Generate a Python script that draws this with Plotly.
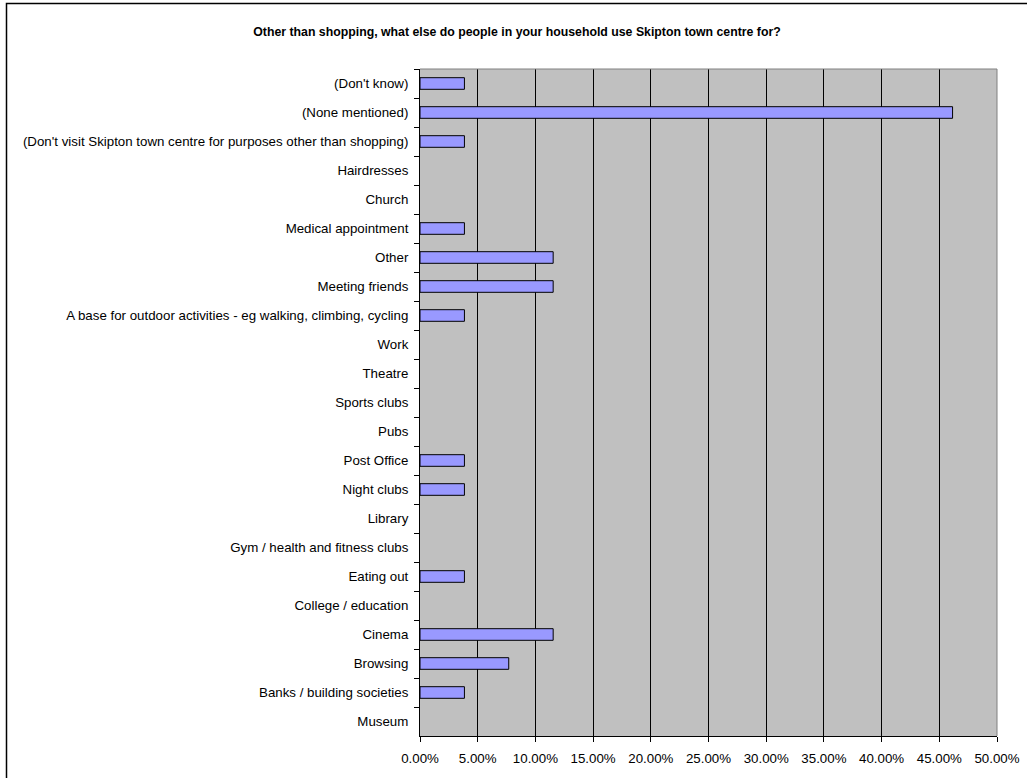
import plotly.graph_objects as go

title = "Other than shopping, what else do people in your household use Skipton town centre for?"

categories = [
    "(Don't know)",
    "(None mentioned)",
    "(Don't visit Skipton town centre for purposes other than shopping)",
    "Hairdresses",
    "Church",
    "Medical appointment",
    "Other",
    "Meeting friends",
    "A base for outdoor activities - eg walking, climbing, cycling",
    "Work",
    "Theatre",
    "Sports clubs",
    "Pubs",
    "Post Office",
    "Night clubs",
    "Library",
    "Gym / health and fitness clubs",
    "Eating out",
    "College / education",
    "Cinema",
    "Browsing",
    "Banks / building societies",
    "Museum",
]

values = [
    3.85, 46.15, 3.85, 0, 0, 3.85, 11.54, 11.54, 3.85, 0, 0, 0, 0,
    3.85, 3.85, 0, 0, 3.85, 0, 11.54, 7.69, 3.85, 0,
]

x_ticks = [0, 5, 10, 15, 20, 25, 30, 35, 40, 45, 50]
x_tick_labels = ["0.00%", "5.00%", "10.00%", "15.00%", "20.00%", "25.00%",
                 "30.00%", "35.00%", "40.00%", "45.00%", "50.00%"]

FONT = "Liberation Sans, Arial, sans-serif"

# no outline on empty (zero) bars, as in the original
outline_widths = [1 if v > 0 else 0 for v in values]

fig = go.Figure(
    go.Bar(
        x=values,
        y=categories,
        orientation="h",
        width=0.4,
        marker=dict(color="#9999FF", line=dict(color="#000000", width=outline_widths)),
        hoverinfo="x+y",
    )
)

L, R, T, B = 420, 30, 69, 42
W, H = 1027, 778
pw = W - L - R
ph = H - T - B

def px_x(p):
    return (p - L) / pw

def px_y(p):
    return (H - B - p) / ph

fig.update_layout(
    width=W,
    height=H,
    autosize=False,
    margin=dict(l=L, r=R, t=T, b=B, pad=0),
    paper_bgcolor="white",
    plot_bgcolor="#C0C0C0",
    font=dict(family=FONT, size=13.3, color="black"),
    showlegend=False,
    title=dict(
        text="<b>" + title + "</b>",
        font=dict(family=FONT, size=12.3, color="black"),
        x=px_x(517), xref="paper", xanchor="center",
        y=1 - 31.5 / H, yref="container", yanchor="middle",
    ),
    xaxis=dict(
        range=[0, 50],
        tickvals=x_ticks,
        ticktext=x_tick_labels,
        showgrid=True,
        gridcolor="black",
        gridwidth=1,
        zeroline=False,
        showline=True,
        linecolor="black",
        linewidth=1,
        ticks="outside",
        ticklen=5,
        tickcolor="black",
        ticklabelstandoff=5,
        tickfont=dict(family=FONT, size=13.3),
        automargin=False,
        fixedrange=True,
    ),
    yaxis=dict(
        categoryorder="array",
        categoryarray=categories,
        autorange="reversed",
        showgrid=False,
        zeroline=False,
        showline=True,
        linecolor="black",
        linewidth=1,
        ticks="outside",
        tickson="boundaries",
        ticklen=5,
        tickcolor="black",
        ticklabelstandoff=8,
        tickfont=dict(family=FONT, size=13.3),
        automargin=False,
        fixedrange=True,
    ),
    shapes=[
        dict(type="line", xref="paper", yref="paper", x0=0, x1=1, y0=1, y1=1,
             line=dict(color="#808080", width=1), layer="above"),
        dict(type="line", xref="paper", yref="paper", x0=1, x1=1, y0=0, y1=1,
             line=dict(color="#808080", width=1), layer="above"),
        dict(type="rect", xref="paper", yref="paper",
             x0=px_x(6.5), x1=px_x(1040), y0=px_y(800), y1=px_y(3.5),
             line=dict(color="black", width=1.5), fillcolor="rgba(0,0,0,0)",
             layer="above"),
    ],
)

fig.write_html(
    "out.html",
    config={"displayModeBar": False, "responsive": False},
    post_script="document.body.style.margin='0';document.body.style.overflow='hidden';",
)
